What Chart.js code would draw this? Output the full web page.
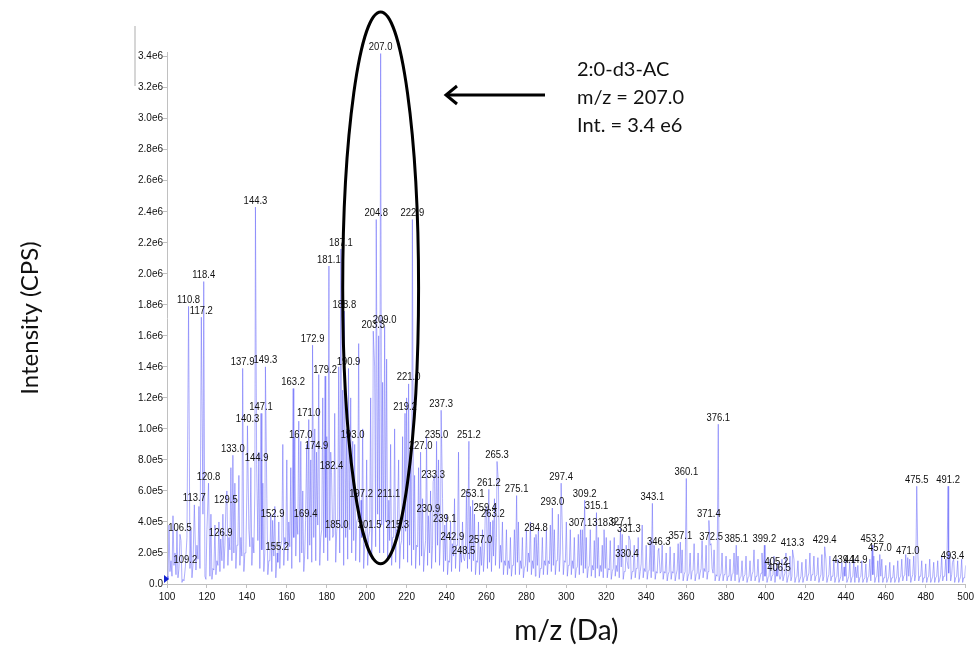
<!DOCTYPE html>
<html>
<head>
<meta charset="utf-8">
<script src="https://cdn.jsdelivr.net/npm/chart.js@4.4.0/dist/chart.umd.min.js"></script>
<style>
  body { margin: 0; background: #fff; }
  canvas { display: block; }
</style>
</head>
<body>
<canvas id="spectrum" width="977" height="648"></canvas>
<script>
// m/z axis
const mzStart = 100;
const xTickValues = [100, 120, 140, 160, 180, 200, 220, 240, 260, 280, 300, 320, 340, 360, 380, 400, 420, 440, 460, 480, 500];
const yTickValues = [0, 2e5, 4e5, 6e5, 8e5, 1e6, 1.2e6, 1.4e6, 1.6e6, 1.8e6, 2e6, 2.2e6, 2.4e6, 2.6e6, 2.8e6, 3e6, 3.2e6, 3.4e6];
const yTickLabels = ['0.0', '2.0e5', '4.0e5', '6.0e5', '8.0e5', '1.0e6', '1.2e6', '1.4e6', '1.6e6', '1.8e6', '2.0e6', '2.2e6', '2.4e6', '2.6e6', '2.8e6', '3.0e6', '3.2e6', '3.4e6'];

// unlabelled signal, one reading per Da from 100 to 500 (x 1e5 CPS)
const backgroundE5 = [
  0.5, 3.8, 1.5, 4.4, 2.0, 3.5, 1.0, 2.8, 0.3, 1.5, 3.0,
  2.0, 3.5, 1.2, 4.0, 2.5, 5.0, 3.0, 4.5, 0.5, 3.5,
  2.0, 4.5, 1.0, 3.8, 1.5, 4.0, 2.0, 4.5, 2.5, 6.0,
  3.0, 7.5, 4.0, 6.5, 2.5, 7.0, 3.0, 5.0, 2.0, 6.0,
  3.5, 7.5, 3.0, 6.0, 4.0, 8.5, 3.0, 6.5, 2.0, 5.5,
  1.5, 4.5, 2.0, 5.0, 1.0, 4.0, 2.5, 9.0, 3.0, 8.0,
  4.0, 7.5, 3.0, 9.5, 4.5, 10.5, 3.5, 6.0, 2.0, 9.0,
  4.0, 8.0, 3.5, 10.0, 4.0, 13.5, 3.0, 12.0, 5.0, 9.5,
  4.0, 8.5, 3.0, 11.0, 3.5, 14.0, 5.0, 12.5, 3.0, 10.0,
  4.0, 12.0, 5.0, 9.0, 4.0, 15.5, 3.5, 10.0, 2.5, 8.0,
  3.0, 12.0, 4.0, 14.0, 6.0, 16.0, 5.0, 13.0, 5.0, 14.5,
  4.0, 9.0, 3.0, 10.0, 3.5, 8.0, 2.5, 9.5, 4.0, 12.0,
  3.5, 8.0, 3.0, 7.0, 2.5, 7.5, 3.0, 5.5, 2.0, 9.5,
  3.0, 6.0, 2.5, 7.0, 3.5, 8.0, 3.0, 5.5, 2.0, 4.5,
  1.5, 4.0, 2.0, 5.5, 2.5, 8.5, 2.0, 4.0, 1.5, 6.0,
  2.5, 5.0, 2.0, 4.5, 1.5, 4.0, 1.5, 3.5, 2.0, 5.0,
  2.5, 4.0, 2.0, 5.5, 3.0, 6.5, 2.5, 4.0, 1.5, 3.5,
  1.5, 3.0, 1.2, 3.5, 1.5, 4.0, 1.5, 3.0, 1.0, 3.5,
  2.0, 4.0, 1.5, 3.0, 1.2, 3.5, 1.0, 3.0, 1.5, 3.5,
  1.5, 3.8, 2.0, 3.5, 1.5, 4.5, 2.0, 3.5, 1.5, 4.0,
  1.2, 3.5, 1.5, 3.0, 1.0, 3.2, 1.5, 3.5, 1.8, 3.0,
  1.0, 3.5, 1.2, 2.8, 1.0, 3.0, 1.2, 2.5, 1.0, 3.0,
  1.0, 2.8, 0.8, 3.0, 1.2, 2.5, 1.0, 3.2, 0.8, 2.5,
  1.0, 2.8, 0.8, 2.5, 1.0, 3.0, 0.8, 3.8, 1.0, 2.5,
  0.8, 2.8, 1.0, 2.5, 0.8, 2.2, 0.7, 2.5, 0.8, 2.0,
  0.6, 2.4, 0.8, 2.0, 0.6, 2.6, 0.8, 2.2, 0.6, 2.5,
  0.5, 2.0, 0.8, 2.6, 0.6, 2.0, 0.7, 2.8, 1.0, 2.5,
  0.8, 2.5, 1.0, 2.2, 0.6, 1.5, 0.5, 2.0, 0.6, 1.8,
  0.5, 1.6, 0.6, 2.0, 0.5, 1.8, 0.4, 1.5, 0.5, 1.8,
  0.4, 1.5, 0.6, 2.2, 0.5, 1.6, 0.4, 2.0, 0.5, 1.5,
  0.4, 1.6, 0.5, 1.8, 0.4, 1.4, 0.3, 1.6, 0.5, 2.0,
  0.4, 1.8, 0.5, 1.6, 0.4, 1.5, 0.3, 1.4, 0.4, 1.6,
  0.5, 2.0, 0.6, 1.8, 0.5, 1.7, 0.4, 1.9, 0.5, 1.6,
  0.4, 1.8, 0.5, 1.5, 0.4, 1.6, 0.3, 1.4, 0.5, 1.5,
  0.3, 1.4, 0.4, 1.6, 0.3, 1.2, 0.4, 1.5, 0.3, 1.3,
  0.4, 1.6, 0.5, 1.8, 0.4, 1.5, 0.3, 1.6, 0.4, 1.2,
  0.3, 1.4, 0.4, 1.2, 0.3, 1.5, 0.4, 1.6, 0.5, 1.9,
  0.5, 1.6, 0.4, 1.8, 0.6, 2.2, 0.5, 1.5, 0.4, 1.3,
  0.4, 1.6, 0.3, 1.4, 0.4, 1.5, 0.3, 1.8, 0.5, 1.6,
  0.5, 2.0, 0.6, 1.6, 0.4, 1.5, 0.3, 1.6, 0.4, 1.2
];

// valleys between those readings, at 100.5, 101.5 ... 499.5 (x 1e5 CPS)
const valleyE5 = [
  0.3, 0.8, 0.5, 1.2, 0.6, 0.4, 0.2, 0.1, 0.2, 0.6,
  0.8, 1.0, 0.4, 1.3, 0.9, 1.6, 1.0, 1.4, 0.2, 0.3,
  0.7, 0.5, 0.3, 0.9, 0.6, 1.2, 0.8, 1.5, 1.0, 1.8,
  1.2, 2.2, 1.5, 2.0, 1.0, 2.5, 1.2, 1.8, 0.8, 2.0,
  1.5, 2.4, 1.2, 2.0, 1.6, 2.8, 1.0, 2.2, 0.8, 1.6,
  0.6, 1.5, 0.8, 1.8, 0.4, 1.4, 1.0, 2.8, 1.2, 2.5,
  1.5, 2.4, 1.0, 3.0, 1.8, 3.2, 1.4, 2.0, 0.8, 2.8,
  1.6, 2.5, 1.4, 3.0, 1.5, 3.8, 1.2, 3.5, 2.0, 3.0,
  1.5, 2.8, 1.2, 3.2, 1.4, 4.0, 2.0, 3.6, 1.2, 3.0,
  1.6, 3.5, 2.0, 2.8, 1.5, 4.2, 1.4, 3.0, 1.0, 2.6,
  1.2, 3.5, 1.6, 4.0, 2.4, 4.5, 2.0, 3.8, 2.0, 4.0,
  1.6, 2.8, 1.2, 3.0, 1.4, 2.5, 1.0, 2.8, 1.6, 3.4,
  1.4, 2.5, 1.2, 2.2, 1.0, 2.4, 1.2, 1.8, 0.8, 2.8,
  1.2, 2.0, 1.0, 2.2, 1.4, 2.5, 1.2, 1.8, 0.8, 1.5,
  0.6, 1.4, 0.8, 1.8, 1.0, 2.5, 0.8, 1.4, 0.6, 2.0,
  1.0, 1.6, 0.8, 1.5, 0.6, 1.4, 0.6, 1.2, 0.8, 1.6,
  1.0, 1.4, 0.8, 1.8, 1.2, 2.0, 1.0, 1.4, 0.6, 1.2,
  0.6, 1.0, 0.5, 1.2, 0.6, 1.4, 0.6, 1.0, 0.4, 1.2,
  0.8, 1.4, 0.6, 1.0, 0.5, 1.2, 0.4, 1.0, 0.6, 1.2,
  0.6, 1.3, 0.8, 1.2, 0.6, 1.5, 0.8, 1.2, 0.6, 1.4,
  0.5, 1.2, 0.6, 1.0, 0.4, 1.1, 0.6, 1.2, 0.7, 1.0,
  0.4, 1.2, 0.5, 0.9, 0.4, 1.0, 0.5, 0.8, 0.4, 1.0,
  0.4, 0.9, 0.3, 1.0, 0.5, 0.8, 0.4, 1.1, 0.3, 0.8,
  0.4, 0.9, 0.3, 0.8, 0.4, 1.0, 0.3, 1.3, 0.4, 0.8,
  0.3, 0.9, 0.4, 0.8, 0.3, 0.7, 0.3, 0.8, 0.3, 0.7,
  0.2, 0.8, 0.3, 0.7, 0.2, 0.9, 0.3, 0.7, 0.2, 0.8,
  0.2, 0.7, 0.3, 0.9, 0.2, 0.7, 0.3, 1.0, 0.4, 0.8,
  0.3, 0.8, 0.4, 0.7, 0.2, 0.5, 0.2, 0.7, 0.2, 0.6,
  0.2, 0.5, 0.2, 0.7, 0.2, 0.6, 0.1, 0.5, 0.2, 0.6,
  0.1, 0.5, 0.2, 0.8, 0.2, 0.5, 0.1, 0.7, 0.2, 0.5,
  0.1, 0.5, 0.2, 0.6, 0.1, 0.5, 0.1, 0.5, 0.2, 0.7,
  0.1, 0.6, 0.2, 0.5, 0.1, 0.5, 0.1, 0.5, 0.1, 0.5,
  0.2, 0.7, 0.2, 0.6, 0.2, 0.6, 0.1, 0.6, 0.2, 0.5,
  0.1, 0.6, 0.2, 0.5, 0.1, 0.5, 0.1, 0.5, 0.2, 0.5,
  0.1, 0.5, 0.1, 0.5, 0.1, 0.4, 0.1, 0.5, 0.1, 0.4,
  0.1, 0.5, 0.2, 0.6, 0.1, 0.5, 0.1, 0.5, 0.1, 0.4,
  0.1, 0.5, 0.1, 0.4, 0.1, 0.5, 0.1, 0.5, 0.2, 0.6,
  0.2, 0.5, 0.1, 0.6, 0.2, 0.7, 0.2, 0.5, 0.1, 0.4,
  0.1, 0.5, 0.1, 0.5, 0.1, 0.5, 0.1, 0.6, 0.2, 0.5,
  0.2, 0.7, 0.2, 0.5, 0.1, 0.5, 0.1, 0.5, 0.1, 0.4
];

// labelled peaks (m/z) and their intensities (x 1e5 CPS)
const peakMz = [
  106.5, 109.2, 110.8, 113.7, 117.2, 118.4, 120.8, 126.9, 129.5, 133.0,
  137.9, 140.3, 144.3, 144.9, 147.1, 149.3, 152.9, 155.2, 163.2, 167.0,
  169.4, 171.0, 172.9, 174.9, 179.2, 181.1, 182.4, 185.0, 187.1, 188.8,
  190.9, 193.0, 197.2, 201.5, 203.3, 204.8, 207.0, 209.0, 211.1, 215.3,
  219.2, 221.0, 222.9, 227.0, 230.9, 233.3, 235.0, 237.3, 239.1, 242.9,
  248.5, 251.2, 253.1, 257.0, 259.4, 261.2, 263.2, 265.3, 275.1, 284.8,
  293.0, 297.4, 307.1, 309.2, 315.1, 318.9, 327.1, 330.4, 331.3, 343.1,
  346.3, 357.1, 360.1, 371.4, 372.5, 376.1, 385.1, 399.2, 405.2, 406.5,
  413.3, 429.4, 439.1, 444.9, 453.2, 457.0, 471.0, 475.5, 491.2, 493.4
];
const peakIntE5 = [
  3.2, 1.1, 17.9, 5.1, 17.2, 19.5, 6.5, 2.9, 5.0, 8.3,
  13.9, 10.2, 24.3, 7.7, 11.0, 14.0, 4.1, 2.0, 12.6, 9.2,
  4.1, 10.6, 15.4, 8.5, 13.4, 20.5, 7.2, 3.4, 21.6, 17.6,
  13.9, 9.2, 5.4, 3.4, 16.3, 23.5, 34.2, 16.6, 5.4, 3.4,
  11.0, 12.9, 23.5, 8.5, 4.4, 6.6, 9.2, 11.2, 3.8, 2.6,
  1.7, 9.2, 5.4, 2.4, 4.5, 6.1, 4.1, 7.9, 5.7, 3.2,
  4.9, 6.5, 3.5, 5.4, 4.6, 3.5, 3.6, 1.5, 3.1, 5.2,
  2.3, 2.7, 6.8, 4.1, 2.6, 10.3, 2.5, 2.5, 1.0, 0.6,
  2.2, 2.4, 1.1, 1.1, 2.5, 1.9, 1.7, 6.3, 6.3, 1.4
];

// annotation text
const noteLines = ['2:0-d3-AC', 'm/z = 207.0', 'Int. = 3.4 e6'];
const noteMz = 207.0;

// merge readings, valleys and peaks into one profile
let points = [];
function addReading(x, v) {
  let near = peakMz.some(p => Math.abs(p - x) < 0.3);
  if (!near) points.push({ x: x, y: v * 1e5 });
}
backgroundE5.forEach((v, i) => addReading(mzStart + i, v));
valleyE5.forEach((v, i) => addReading(mzStart + i + 0.5, v));
peakMz.forEach((mz, i) => points.push({ x: mz, y: peakIntE5[i] * 1e5 }));
points.sort((a, b) => a.x - b.x);

const sans = "'Liberation Sans', Arial, sans-serif";
const tickFont = { family: sans, size: 10 };
const titleFamily = "Lato, 'Open Sans', sans-serif";

// peak labels, ellipse, arrow and note
const extrasPlugin = {
  id: 'extras',
  afterDatasetsDraw(chart) {
    const ctx = chart.ctx;
    const xs = chart.scales.x, ys = chart.scales.y;
    ctx.save();

    // peak labels (squeezed a little, like the narrow font in the scan)
    ctx.fillStyle = '#111';
    ctx.font = '11px ' + sans;
    ctx.textAlign = 'center';
    ctx.textBaseline = 'bottom';
    peakMz.forEach((mz, i) => {
      let px = xs.getPixelForValue(mz);
      let py = ys.getPixelForValue(peakIntE5[i] * 1e5);
      ctx.save();
      ctx.translate(px, py - 1);
      ctx.scale(0.86, 1);
      ctx.fillText(mz.toFixed(1), 0, 0);
      ctx.restore();
    });

    // small marker at origin
    ctx.fillStyle = '#1020d0';
    let ox = xs.left, oy = ys.bottom;
    ctx.beginPath();
    ctx.moveTo(ox - 3, oy - 9);
    ctx.lineTo(ox + 2, oy - 5);
    ctx.lineTo(ox - 3, oy - 1);
    ctx.closePath();
    ctx.fill();

    // stray grey line at top left
    ctx.strokeStyle = '#c8c8c8';
    ctx.lineWidth = 1.5;
    ctx.beginPath();
    ctx.moveTo(135, 26);
    ctx.lineTo(135, 86);
    ctx.stroke();

    // ellipse round the main peak
    let cx = xs.getPixelForValue(noteMz);
    let rx = xs.getPixelForValue(noteMz + 19) - cx;
    let top = ys.getPixelForValue(3.43e6) - 40;
    let bottom = ys.getPixelForValue(1.3e5);
    ctx.strokeStyle = '#000';
    ctx.lineWidth = 3;
    ctx.beginPath();
    ctx.ellipse(cx, (top + bottom) / 2, rx, (bottom - top) / 2, 0, 0, Math.PI * 2);
    ctx.stroke();

    // arrow
    let ay = 95;
    ctx.beginPath();
    ctx.moveTo(545, ay);
    ctx.lineTo(447, ay);
    ctx.stroke();
    ctx.beginPath();
    ctx.moveTo(457, ay - 9);
    ctx.lineTo(446, ay);
    ctx.lineTo(457, ay + 9);
    ctx.stroke();

    // note text
    ctx.fillStyle = '#111';
    ctx.font = '20px ' + titleFamily;
    ctx.textAlign = 'left';
    ctx.textBaseline = 'middle';
    noteLines.forEach((t, i) => ctx.fillText(t, 577, 70 + i * 28));

    ctx.restore();
  }
};

var ctx = document.getElementById('spectrum').getContext('2d');
var spectrumChart = new Chart(ctx, {
  type: 'line',
  data: {
    datasets: [{
      label: 'Intensity',
      data: points,
      borderColor: 'rgba(110, 110, 250, 0.55)',
      borderWidth: 1,
      pointRadius: 0,
      tension: 0,
      fill: false
    }]
  },
  options: {
    responsive: false,
    animation: false,
    layout: { padding: { top: 52, right: 10, left: 0, bottom: 0 } },
    plugins: {
      legend: { display: false },
      tooltip: { enabled: false }
    },
    scales: {
      x: {
        type: 'linear',
        min: 100,
        max: 500,
        afterBuildTicks: s => { s.ticks = xTickValues.map(v => ({ value: v })); },
        afterFit: s => { s.height = 64; },
        border: { color: '#c0c0c0' },
        grid: { drawOnChartArea: false, color: '#c0c0c0', tickLength: 4 },
        ticks: { color: '#111', font: tickFont, padding: 3, maxRotation: 0, autoSkip: false },
        title: { display: true, text: 'm/z (Da)', color: '#111', font: { family: titleFamily, size: 28 }, padding: { top: 4, bottom: 0 } }
      },
      y: {
        type: 'linear',
        min: 0,
        max: 3.43e6,
        afterBuildTicks: s => { s.ticks = yTickValues.map(v => ({ value: v })); },
        afterFit: s => { s.width = 167; },
        border: { color: '#c0c0c0' },
        grid: { drawOnChartArea: false, color: '#c0c0c0', tickLength: 4 },
        ticks: {
          color: '#111',
          font: tickFont,
          padding: 0,
          autoSkip: false,
          callback: (v, i) => yTickLabels[i]
        },
        title: { display: true, text: 'Intensity (CPS)', color: '#111', font: { family: titleFamily, size: 24 }, padding: { top: 16, bottom: 0 } }
      }
    }
  },
  plugins: [extrasPlugin]
});
</script>
</body>
</html>
